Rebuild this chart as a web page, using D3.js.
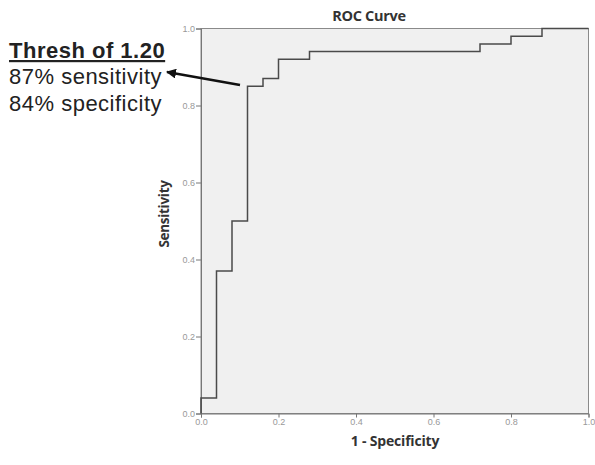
<!DOCTYPE html>
<html>
<head>
<meta charset="utf-8">
<script src="https://cdn.jsdelivr.net/npm/d3@7"></script>
<style>
  body { margin: 0; background: #fff; }
  .tick text { fill: #999; font-family: "Liberation Sans", Arial, sans-serif; font-size: 9px; }
</style>
</head>
<body>
<div id="chart"></div>
<script>
// ROC points (1 - specificity, sensitivity)
const fpr = [0, 0, 0.04, 0.08, 0.12, 0.16, 0.20, 0.28, 0.72, 0.80, 0.88, 1.0];
const tpr = [0, 0.04, 0.37, 0.50, 0.85, 0.87, 0.92, 0.94, 0.96, 0.98, 1.0, 1.0];
const tickValues = [0, 0.2, 0.4, 0.6, 0.8, 1.0];
const noteLines = ["Thresh of 1.20", "87% sensitivity", "84% specificity"];

const W = 595, H = 465;
const margin = {top: 28.5, right: 6.5, bottom: 51.5, left: 201};
const width = W - margin.left - margin.right;
const height = H - margin.top - margin.bottom;

const svg = d3.select("#chart").append("svg")
    .attr("width", W)
    .attr("height", H);

const g = svg.append("g")
    .attr("transform", `translate(${margin.left},${margin.top})`);

const x = d3.scaleLinear().domain([0, 1]).range([0, width]);
const y = d3.scaleLinear().domain([0, 1]).range([height, 0]);

// plot background
g.append("rect")
    .attr("x", 0).attr("y", 0)
    .attr("width", width).attr("height", height)
    .attr("fill", "#f0f0f0")
    .attr("stroke", "#8a8a8a")
    .attr("stroke-width", 1);

// axes
const xAxis = g.append("g")
    .attr("transform", `translate(0,${height})`)
    .call(d3.axisBottom(x).tickValues(tickValues).tickFormat(d3.format(".1f")).tickSize(4));
const yAxis = g.append("g")
    .call(d3.axisLeft(y).tickValues(tickValues).tickFormat(d3.format(".1f")).tickSize(5));
[xAxis, yAxis].forEach(a => {
    a.select(".domain").attr("stroke", "#777");
    a.selectAll(".tick line").attr("stroke", "#777");
});
xAxis.selectAll(".tick text").attr("y", 5).attr("dy", "0.75em");
yAxis.selectAll(".tick text").attr("x", -6);

// ROC step line
const pts = fpr.map((d, i) => [d, tpr[i]]);
const line = d3.line()
    .x(d => x(d[0]))
    .y(d => y(d[1]))
    .curve(d3.curveStepAfter);
g.append("path")
    .datum(pts)
    .attr("d", line)
    .attr("fill", "none")
    .attr("stroke", "#4a4a4a")
    .attr("stroke-width", 1.5);

// titles
svg.append("text")
    .attr("x", 369).attr("y", 20.5)
    .attr("text-anchor", "middle")
    .attr("font-family", "'Open Sans', sans-serif")
    .attr("font-weight", "bold")
    .attr("font-size", 14.5)
    .attr("letter-spacing", -0.3)
    .attr("fill", "#333")
    .text("ROC Curve");

svg.append("text")
    .attr("x", 395).attr("y", 446)
    .attr("text-anchor", "middle")
    .attr("font-family", "'Open Sans', sans-serif")
    .attr("font-weight", "bold")
    .attr("font-size", 14)
    .attr("letter-spacing", -0.2)
    .attr("fill", "#333")
    .text("1 - Specificity");

svg.append("text")
    .attr("transform", `translate(169,214) rotate(-90)`)
    .attr("text-anchor", "middle")
    .attr("font-family", "'Open Sans', sans-serif")
    .attr("font-weight", "bold")
    .attr("font-size", 13.5)
    .attr("letter-spacing", -0.3)
    .attr("fill", "#333")
    .text("Sensitivity");

// annotation
const note = svg.append("g")
    .attr("font-family", "'Liberation Sans', Arial, sans-serif")
    .attr("font-size", 22)
    .attr("letter-spacing", 0.5)
    .attr("fill", "#222");
note.append("text")
    .attr("x", 9).attr("y", 58)
    .attr("font-weight", "bold")
    .attr("text-decoration", "underline")
    .text(noteLines[0]);
note.append("text").attr("x", 9).attr("y", 84).text(noteLines[1]);
note.append("text").attr("x", 9).attr("y", 111).text(noteLines[2]);

svg.append("defs").append("marker")
    .attr("id", "head")
    .attr("viewBox", "0 0 10 10")
    .attr("refX", 9).attr("refY", 5)
    .attr("markerWidth", 4).attr("markerHeight", 4)
    .attr("orient", "auto")
    .append("path")
    .attr("d", "M0,0L10,5L0,10z")
    .attr("fill", "#111");

svg.append("line")
    .attr("x1", 240).attr("y1", 85)
    .attr("x2", 167).attr("y2", 72)
    .attr("stroke", "#111")
    .attr("stroke-width", 2.5)
    .attr("marker-end", "url(#head)");
</script>
</body>
</html>
